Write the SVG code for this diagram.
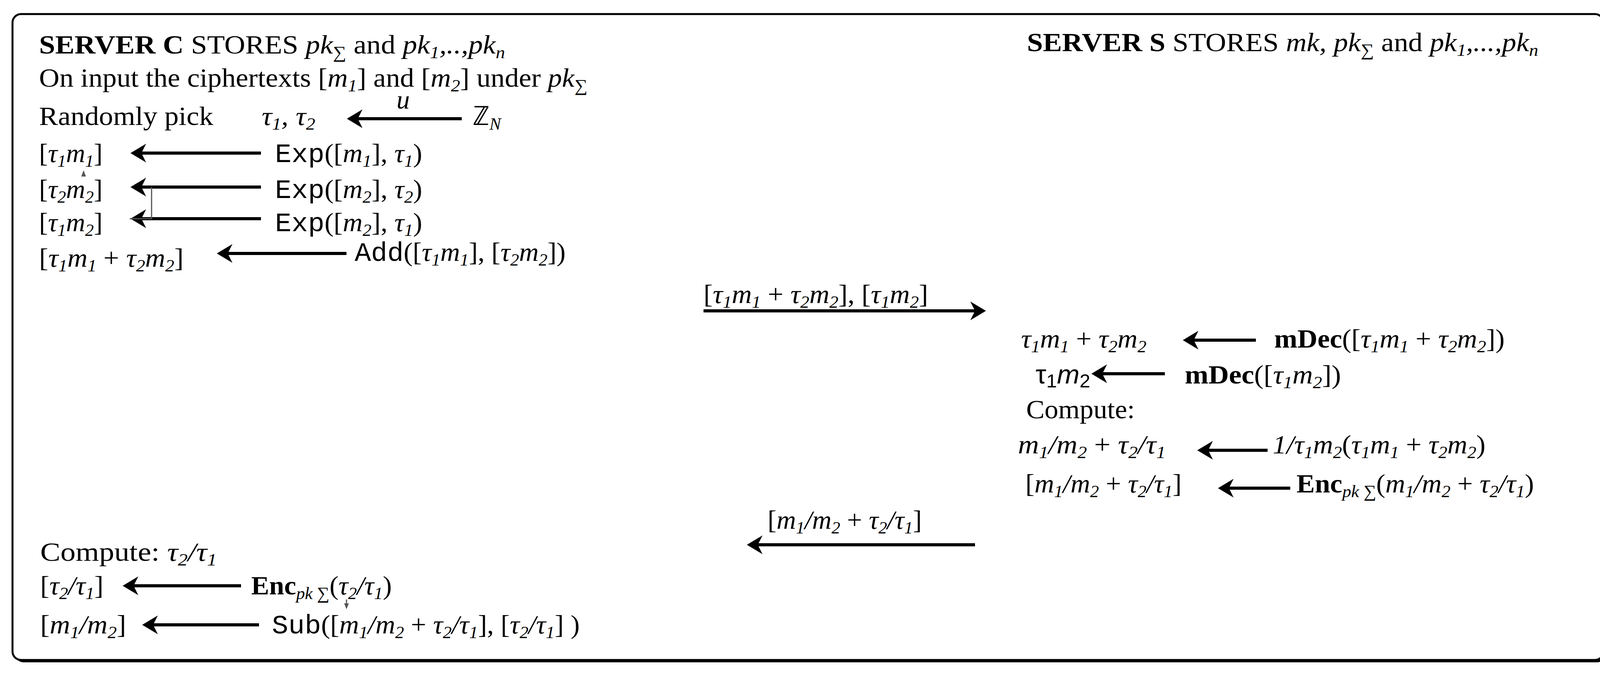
<svg xmlns="http://www.w3.org/2000/svg" width="4137" height="1731" viewBox="0 0 4137 1731">
<style>
text{font-family:"Liberation Serif",serif;font-size:68px;fill:#000}
.i{font-style:italic}
.b{font-weight:bold}
.m{font-family:"Liberation Mono",monospace}
.s{font-size:44px;font-style:italic}
.ar{stroke:#000;stroke-width:8;fill:none;marker-end:url(#ah)}
.thin{stroke:#555;stroke-width:3;fill:none}
</style>
<defs>
<marker id="ah" markerWidth="6" markerHeight="6" refX="3.5" refY="3" orient="auto" markerUnits="strokeWidth"><path d="M0,0 L5,3 L0,6 L1.5,3 Z" fill="#000"/></marker>
</defs>
<rect x="38" y="42" width="4073" height="1654" rx="22" fill="#000"/>
<rect x="32" y="36" width="4073" height="1654" rx="22" fill="#fff" stroke="#000" stroke-width="5"/>

<g id="connectors">
<path class="ar" d="M1182,304 H900"/>
<path class="ar" d="M668,392 H346"/>
<path class="ar" d="M668,479 H346"/>
<path class="ar" d="M668,560 H346"/>
<path class="ar" d="M887,649 H567"/>
<path class="ar" d="M1801,796 H2512"/>
<path class="ar" d="M3215,871 H3040"/>
<path class="ar" d="M2982,957 H2806"/>
<path class="ar" d="M3245,1153 H3077"/>
<path class="ar" d="M3303,1250 H3130"/>
<path class="ar" d="M2496,1395 H1924"/>
<path class="ar" d="M617,1500 H326"/>
<path class="ar" d="M663,1600 H376"/>
<path class="thin" d="M388,479 V560 H332"/>
<path d="M214,436 L208,452 L220,452 Z" fill="#555"/>
<path class="thin" d="M887,1535 V1555"/>
<path d="M887,1560 L881,1545 L893,1545 Z" fill="#555"/>
</g>

<g id="server-c">
<text x="100" y="137" textLength="1193" lengthAdjust="spacingAndGlyphs"><tspan class="b">SERVER C</tspan> STORES <tspan class="i">pk</tspan><tspan class="s" baseline-shift="-12">∑</tspan> and <tspan class="i">pk</tspan><tspan class="s" baseline-shift="-12">1</tspan><tspan class="i">,..,pk</tspan><tspan class="s" baseline-shift="-12">n</tspan></text>
<text x="100" y="222" textLength="1404" lengthAdjust="spacingAndGlyphs">On input the ciphertexts [<tspan class="i">m</tspan><tspan class="s" baseline-shift="-12">1</tspan>] and [<tspan class="i">m</tspan><tspan class="s" baseline-shift="-12">2</tspan>] under <tspan class="i">pk</tspan><tspan class="s" baseline-shift="-12">∑</tspan></text>
</g>
<g id="pick">
<text x="100" y="320" textLength="446" lengthAdjust="spacingAndGlyphs">Randomly pick</text>
<text x="670" y="320" class="i" textLength="137" lengthAdjust="spacingAndGlyphs">τ<tspan class="s" baseline-shift="-12">1</tspan>, τ<tspan class="s" baseline-shift="-12">2</tspan></text>
<text x="1015" y="278" class="i">u</text>
<text x="1210" y="320">ℤ<tspan class="s" baseline-shift="-12">N</tspan></text>
</g>
<g id="exp1">
<text x="100" y="415">[<tspan class="i">τ</tspan><tspan class="s" baseline-shift="-12">1</tspan><tspan class="i">m</tspan><tspan class="s" baseline-shift="-12">1</tspan>]</text>
<text x="704" y="415" textLength="377" lengthAdjust="spacingAndGlyphs"><tspan class="m">Exp</tspan>([<tspan class="i">m</tspan><tspan class="s" baseline-shift="-12">1</tspan>], <tspan class="i">τ</tspan><tspan class="s" baseline-shift="-12">1</tspan>)</text>
</g>
<g id="exp2">
<text x="100" y="507">[<tspan class="i">τ</tspan><tspan class="s" baseline-shift="-12">2</tspan><tspan class="i">m</tspan><tspan class="s" baseline-shift="-12">2</tspan>]</text>
<text x="704" y="507" textLength="377" lengthAdjust="spacingAndGlyphs"><tspan class="m">Exp</tspan>([<tspan class="i">m</tspan><tspan class="s" baseline-shift="-12">2</tspan>], <tspan class="i">τ</tspan><tspan class="s" baseline-shift="-12">2</tspan>)</text>
</g>
<g id="exp3">
<text x="100" y="592">[<tspan class="i">τ</tspan><tspan class="s" baseline-shift="-12">1</tspan><tspan class="i">m</tspan><tspan class="s" baseline-shift="-12">2</tspan>]</text>
<text x="704" y="592" textLength="377" lengthAdjust="spacingAndGlyphs"><tspan class="m">Exp</tspan>([<tspan class="i">m</tspan><tspan class="s" baseline-shift="-12">2</tspan>], <tspan class="i">τ</tspan><tspan class="s" baseline-shift="-12">1</tspan>)</text>
</g>
<g id="add">
<text x="100" y="683" textLength="370" lengthAdjust="spacingAndGlyphs">[<tspan class="i">τ</tspan><tspan class="s" baseline-shift="-12">1</tspan><tspan class="i">m</tspan><tspan class="s" baseline-shift="-12">1</tspan> + <tspan class="i">τ</tspan><tspan class="s" baseline-shift="-12">2</tspan><tspan class="i">m</tspan><tspan class="s" baseline-shift="-12">2</tspan>]</text>
<text x="908" y="668" textLength="540" lengthAdjust="spacingAndGlyphs"><tspan class="m">Add</tspan>([<tspan class="i">τ</tspan><tspan class="s" baseline-shift="-12">1</tspan><tspan class="i">m</tspan><tspan class="s" baseline-shift="-12">1</tspan>], [<tspan class="i">τ</tspan><tspan class="s" baseline-shift="-12">2</tspan><tspan class="i">m</tspan><tspan class="s" baseline-shift="-12">2</tspan>])</text>
</g>
<g id="msg1">
<text x="1801" y="776" textLength="575" lengthAdjust="spacingAndGlyphs">[<tspan class="i">τ</tspan><tspan class="s" baseline-shift="-12">1</tspan><tspan class="i">m</tspan><tspan class="s" baseline-shift="-12">1</tspan> + <tspan class="i">τ</tspan><tspan class="s" baseline-shift="-12">2</tspan><tspan class="i">m</tspan><tspan class="s" baseline-shift="-12">2</tspan>], [<tspan class="i">τ</tspan><tspan class="s" baseline-shift="-12">1</tspan><tspan class="i">m</tspan><tspan class="s" baseline-shift="-12">2</tspan>]</text>
</g>
<g id="server-s">
<text x="2629" y="131" textLength="1309" lengthAdjust="spacingAndGlyphs"><tspan class="b">SERVER S</tspan> STORES <tspan class="i">mk, pk</tspan><tspan class="s" baseline-shift="-12">∑</tspan> and <tspan class="i">pk</tspan><tspan class="s" baseline-shift="-12">1</tspan><tspan class="i">,...,pk</tspan><tspan class="s" baseline-shift="-12">n</tspan></text>
</g>
<g id="mdec1">
<text x="2614" y="890" textLength="321" lengthAdjust="spacingAndGlyphs"><tspan class="i">τ</tspan><tspan class="s" baseline-shift="-12">1</tspan><tspan class="i">m</tspan><tspan class="s" baseline-shift="-12">1</tspan> + <tspan class="i">τ</tspan><tspan class="s" baseline-shift="-12">2</tspan><tspan class="i">m</tspan><tspan class="s" baseline-shift="-12">2</tspan></text>
<text x="3262" y="890" textLength="590" lengthAdjust="spacingAndGlyphs"><tspan class="b">mDec</tspan>([<tspan class="i">τ</tspan><tspan class="s" baseline-shift="-12">1</tspan><tspan class="i">m</tspan><tspan class="s" baseline-shift="-12">1</tspan> + <tspan class="i">τ</tspan><tspan class="s" baseline-shift="-12">2</tspan><tspan class="i">m</tspan><tspan class="s" baseline-shift="-12">2</tspan>])</text>
</g>
<g id="mdec2">
<text x="2651" y="982" style="font-family:'Liberation Sans',sans-serif" textLength="140" lengthAdjust="spacingAndGlyphs">τ<tspan style="font-size:48px" baseline-shift="-10">1</tspan><tspan class="i">m</tspan><tspan style="font-size:48px" baseline-shift="-10">2</tspan></text>
<text x="3033" y="982" textLength="400" lengthAdjust="spacingAndGlyphs"><tspan class="b">mDec</tspan>([<tspan class="i">τ</tspan><tspan class="s" baseline-shift="-12">1</tspan><tspan class="i">m</tspan><tspan class="s" baseline-shift="-12">2</tspan>])</text>
</g>
<g id="compute-s">
<text x="2627" y="1071" textLength="278" lengthAdjust="spacingAndGlyphs">Compute:</text>
<text x="2606" y="1161" textLength="378" lengthAdjust="spacingAndGlyphs"><tspan class="i">m</tspan><tspan class="s" baseline-shift="-12">1</tspan><tspan class="i">/m</tspan><tspan class="s" baseline-shift="-12">2</tspan> + <tspan class="i">τ</tspan><tspan class="s" baseline-shift="-12">2</tspan><tspan class="i">/τ</tspan><tspan class="s" baseline-shift="-12">1</tspan></text>
<text x="3258" y="1161" textLength="545" lengthAdjust="spacingAndGlyphs"><tspan class="i">1/τ</tspan><tspan class="s" baseline-shift="-12">1</tspan><tspan class="i">m</tspan><tspan class="s" baseline-shift="-12">2</tspan>(<tspan class="i">τ</tspan><tspan class="s" baseline-shift="-12">1</tspan><tspan class="i">m</tspan><tspan class="s" baseline-shift="-12">1</tspan> + <tspan class="i">τ</tspan><tspan class="s" baseline-shift="-12">2</tspan><tspan class="i">m</tspan><tspan class="s" baseline-shift="-12">2</tspan>)</text>
</g>
<g id="enc-s">
<text x="2625" y="1261" textLength="400" lengthAdjust="spacingAndGlyphs">[<tspan class="i">m</tspan><tspan class="s" baseline-shift="-12">1</tspan><tspan class="i">/m</tspan><tspan class="s" baseline-shift="-12">2</tspan> + <tspan class="i">τ</tspan><tspan class="s" baseline-shift="-12">2</tspan><tspan class="i">/τ</tspan><tspan class="s" baseline-shift="-12">1</tspan>]</text>
<text x="3319" y="1261" textLength="608" lengthAdjust="spacingAndGlyphs"><tspan class="b">Enc</tspan><tspan class="s" baseline-shift="-12">pk ∑</tspan>(<tspan class="i">m</tspan><tspan class="s" baseline-shift="-12">1</tspan><tspan class="i">/m</tspan><tspan class="s" baseline-shift="-12">2</tspan> + <tspan class="i">τ</tspan><tspan class="s" baseline-shift="-12">2</tspan><tspan class="i">/τ</tspan><tspan class="s" baseline-shift="-12">1</tspan>)</text>
</g>
<g id="msg2">
<text x="1965" y="1354" textLength="395" lengthAdjust="spacingAndGlyphs">[<tspan class="i">m</tspan><tspan class="s" baseline-shift="-12">1</tspan><tspan class="i">/m</tspan><tspan class="s" baseline-shift="-12">2</tspan> + <tspan class="i">τ</tspan><tspan class="s" baseline-shift="-12">2</tspan><tspan class="i">/τ</tspan><tspan class="s" baseline-shift="-12">1</tspan>]</text>
</g>
<g id="compute-c">
<text x="103" y="1436" textLength="452" lengthAdjust="spacingAndGlyphs">Compute:  <tspan class="i">τ</tspan><tspan class="s" baseline-shift="-12">2</tspan><tspan class="i">/τ</tspan><tspan class="s" baseline-shift="-12">1</tspan></text>
</g>
<g id="enc-c">
<text x="103" y="1522" textLength="162" lengthAdjust="spacingAndGlyphs">[<tspan class="i">τ</tspan><tspan class="s" baseline-shift="-12">2</tspan><tspan class="i">/τ</tspan><tspan class="s" baseline-shift="-12">1</tspan>]</text>
<text x="643" y="1522" textLength="360" lengthAdjust="spacingAndGlyphs"><tspan class="b">Enc</tspan><tspan class="s" baseline-shift="-12">pk ∑</tspan>(<tspan class="i">τ</tspan><tspan class="s" baseline-shift="-12">2</tspan><tspan class="i">/τ</tspan><tspan class="s" baseline-shift="-12">1</tspan>)</text>
</g>
<g id="sub">
<text x="103" y="1622" textLength="220" lengthAdjust="spacingAndGlyphs">[<tspan class="i">m</tspan><tspan class="s" baseline-shift="-12">1</tspan><tspan class="i">/m</tspan><tspan class="s" baseline-shift="-12">2</tspan>]</text>
<text x="696" y="1622" textLength="788" lengthAdjust="spacingAndGlyphs"><tspan class="m">Sub</tspan>([<tspan class="i">m</tspan><tspan class="s" baseline-shift="-12">1</tspan><tspan class="i">/m</tspan><tspan class="s" baseline-shift="-12">2</tspan> + <tspan class="i">τ</tspan><tspan class="s" baseline-shift="-12">2</tspan><tspan class="i">/τ</tspan><tspan class="s" baseline-shift="-12">1</tspan>], [<tspan class="i">τ</tspan><tspan class="s" baseline-shift="-12">2</tspan><tspan class="i">/τ</tspan><tspan class="s" baseline-shift="-12">1</tspan>] )</text>
</g>
</svg>
